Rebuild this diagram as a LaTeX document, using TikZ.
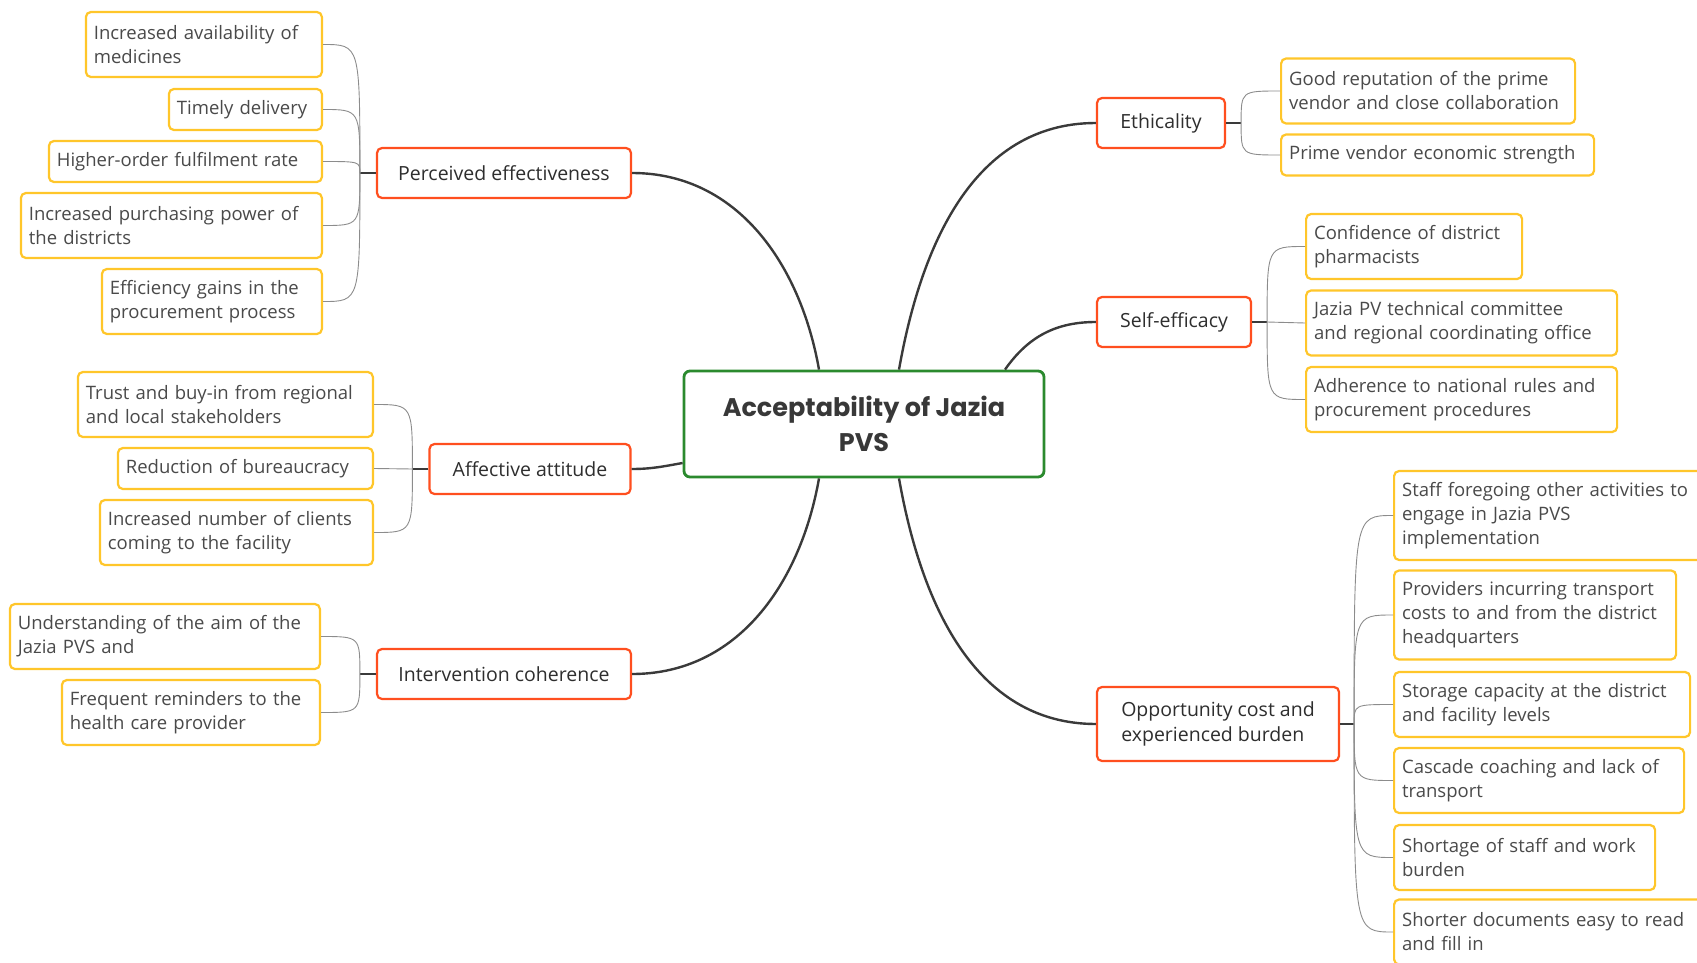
\documentclass[tikz,border=0pt]{standalone}
\usepackage{fontspec}
\setmainfont{Open Sans}
\newfontfamily\rootfont{Poppins}
\definecolor{leafyellow}{HTML}{FFC62A}
\definecolor{branchred}{HTML}{FF4F1F}
\definecolor{rootgreen}{HTML}{2B8A2E}
\definecolor{inkgrey}{HTML}{4A4A4A}
\definecolor{trunkgrey}{HTML}{3A3A3A}
\definecolor{twiggrey}{HTML}{8C8C8C}

\begin{document}
\begin{tikzpicture}[x=1pt, y=-1pt,
    leaf/.style={draw=leafyellow, line width=2.2pt, rounded corners=5pt, fill=white, align=left,
        inner xsep=8pt, inner ysep=0pt, minimum height=65pt, text=inkgrey,
        font=\fontsize{18.5}{24}\selectfont},
    shortleaf/.style={leaf, minimum height=41pt},
    tallleaf/.style={leaf, minimum height=89pt},
    branch/.style={draw=branchred, line width=2.2pt, rounded corners=5pt, fill=white, align=left,
        inner xsep=0pt, minimum height=50pt, text=black!82,
        font=\fontsize{19.5}{24.5}\selectfont},
    rootnode/.style={draw=rootgreen, line width=2.8pt, rounded corners=6pt, fill=white, align=center,
        minimum width=360pt, minimum height=106pt, text=black!78,
        font={\rootfont\bfseries\fontsize{25.5}{35}\selectfont}},
    trunk/.style={draw=trunkgrey, line width=2.4pt},
    stub/.style={draw=trunkgrey, line width=1.6pt},
    twig/.style={draw=twiggrey, line width=0.9pt}]

    \clip (0,0) rectangle (1697,963);

    \node[rootnode] (root) at (864,424) {Acceptability of Jazia\\PVS};

    \node[branch, minimum width=254pt] (pe) at (504,173) {Perceived effectiveness};
    \node[branch, minimum width=201pt] (aa) at (530,469) {Affective attitude};
    \node[branch, minimum width=254pt] (ic) at (504,674) {Intervention coherence};
    \node[branch, minimum width=128pt] (eth) at (1161,123) {Ethicality};
    \node[branch, minimum width=154pt] (se) at (1174,322) {Self-efficacy};
    \node[branch, minimum width=242pt, minimum height=74pt] (opp) at (1218,724) {Opportunity cost and\\experienced burden};

    \node[leaf, anchor=east, text width=220pt] (avail) at (323,44.5) {Increased availability of\\medicines};
    \node[shortleaf, anchor=east, text width=137pt] (timely) at (323,109.5) {Timely delivery};
    \node[shortleaf, anchor=east, text width=257pt] (higher) at (323,161.5) {Higher-order fulfilment rate};
    \node[leaf, anchor=east, text width=285pt] (purch) at (323,225.5) {Increased purchasing power of\\the districts};
    \node[leaf, anchor=east, text width=204pt] (effic) at (323,301.5) {Efficiency gains in the\\procurement process};

    \node[leaf, anchor=east, text width=279pt] (trust) at (374,404.5) {Trust and buy-in from regional\\and local stakeholders};
    \node[shortleaf, anchor=east, text width=239pt] (reduc) at (374,468.5) {Reduction of bureaucracy};
    \node[leaf, anchor=east, text width=257pt] (clients) at (374,532.5) {Increased number of clients\\coming to the facility};

    \node[leaf, anchor=east, text width=294pt] (underst) at (321,636.5) {Understanding of the aim of the\\Jazia PVS and};
    \node[leaf, anchor=east, text width=242pt] (remind) at (321,712.5) {Frequent reminders to the\\health care provider};

    \node[leaf, anchor=west, text width=278pt] (goodrep) at (1280,91) {Good reputation of the prime\\vendor and close collaboration};
    \node[shortleaf, anchor=west, text width=297pt] (econ) at (1280,155) {Prime vendor economic strength};

    \node[leaf, anchor=west, text width=200pt] (confid) at (1305,246.5) {Confidence of district\\pharmacists};
    \node[leaf, anchor=west, text width=295pt] (techcom) at (1305,323) {Jazia PV technical committee\\and regional coordinating office};
    \node[leaf, anchor=west, text width=295pt] (adher) at (1305,399.5) {Adherence to national rules and\\procurement procedures};

    \node[tallleaf, anchor=west, text width=320pt] (staff) at (1393,515.5) {Staff foregoing other activities to\\engage in Jazia PVS\\implementation};
    \node[tallleaf, anchor=west, text width=266pt] (provid) at (1393,615) {Providers incurring transport\\costs to and from the district\\headquarters};
    \node[leaf, anchor=west, text width=280pt] (storage) at (1393,704.5) {Storage capacity at the district\\and facility levels};
    \node[leaf, anchor=west, text width=274pt] (cascade) at (1393,780.5) {Cascade coaching and lack of\\transport};
    \node[leaf, anchor=west, text width=245pt] (shortage) at (1393,857.5) {Shortage of staff and work\\burden};
    \node[leaf, anchor=west, text width=310pt] (shorter) at (1393,932) {Shorter documents easy to read\\and fill in};

    \draw[trunk] ([xshift=-45pt]root.north) to[out=100, in=0] (pe.east);
    \draw[trunk] ([yshift=-39pt]root.west) to[out=190, in=0] (aa.east);
    \draw[trunk] ([xshift=-45pt]root.south) to[out=-100, in=0] (ic.east);
    \draw[trunk] ([xshift=35pt]root.north) to[out=80, in=180] (eth.west);
    \draw[trunk] ([xshift=141pt]root.north) to[out=55, in=180] (se.west);
    \draw[trunk] ([xshift=35pt]root.south) to[out=-80, in=180] (opp.west);

    \coordinate (pehub) at ([xshift=-16pt]pe.west);
    \coordinate (aahub) at ([xshift=-16pt]aa.west);
    \coordinate (ichub) at ([xshift=-16pt]ic.west);
    \coordinate (ethhub) at ([xshift=15pt]eth.east);
    \coordinate (sehub) at ([xshift=15pt]se.east);
    \coordinate (opphub) at ([xshift=14pt]opp.east);

    \draw[stub] (pe.west) -- (pehub);
    \draw[stub] (aa.west) -- (aahub);
    \draw[stub] (ic.west) -- (ichub);
    \draw[stub] (eth.east) -- (ethhub);
    \draw[stub] (se.east) -- (sehub);
    \draw[stub] (opp.east) -- (opphub);

    \draw[twig] (pehub) .. controls (pehub |- avail.east) .. (avail.east);
    \draw[twig] (pehub) .. controls (pehub |- timely.east) .. (timely.east);
    \draw[twig] (pehub) .. controls (pehub |- higher.east) .. (higher.east);
    \draw[twig] (pehub) .. controls (pehub |- purch.east) .. (purch.east);
    \draw[twig] (pehub) .. controls (pehub |- effic.east) .. (effic.east);

    \draw[twig] (aahub) .. controls (aahub |- trust.east) .. (trust.east);
    \draw[twig] (aahub) -- (reduc.east);
    \draw[twig] (aahub) .. controls (aahub |- clients.east) .. (clients.east);

    \draw[twig] (ichub) .. controls (ichub |- underst.east) .. (underst.east);
    \draw[twig] (ichub) .. controls (ichub |- remind.east) .. (remind.east);

    \draw[twig] (ethhub) .. controls (ethhub |- goodrep.west) .. (goodrep.west);
    \draw[twig] (ethhub) .. controls (ethhub |- econ.west) .. (econ.west);

    \draw[twig] (sehub) .. controls (sehub |- confid.west) .. (confid.west);
    \draw[twig] (sehub) -- (techcom.west);
    \draw[twig] (sehub) .. controls (sehub |- adher.west) .. (adher.west);

    \draw[twig] (opphub) .. controls (opphub |- staff.west) .. (staff.west);
    \draw[twig] (opphub) .. controls (opphub |- provid.west) .. (provid.west);
    \draw[twig] (opphub) .. controls (opphub |- storage.west) .. (storage.west);
    \draw[twig] (opphub) .. controls (opphub |- cascade.west) .. (cascade.west);
    \draw[twig] (opphub) .. controls (opphub |- shortage.west) .. (shortage.west);
    \draw[twig] (opphub) .. controls (opphub |- shorter.west) .. (shorter.west);
\end{tikzpicture}
\end{document}
